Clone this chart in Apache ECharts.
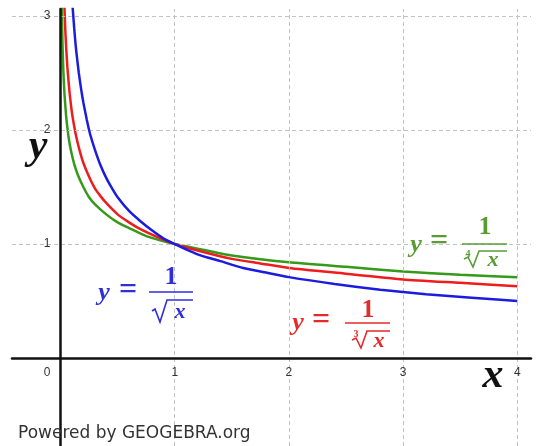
<!DOCTYPE html>
<html>
<head>
<meta charset="utf-8">
<script src="https://cdn.jsdelivr.net/npm/echarts@6/dist/echarts.min.js"></script>
<style>html,body{margin:0;padding:0;background:#fff}#c{width:536px;height:446px}</style>
</head>
<body>
<div id="c"></div>
<script>
// y = 1/sqrt(x)
const blueX = [0.10,0.11,0.12,0.13,0.14,0.16,0.18,0.20,0.23,0.26,0.30,0.35,0.40,0.45,0.50,0.60,0.70,0.80,0.90,1.00,1.20,1.40,1.60,1.80,2.00,2.40,2.80,3.20,3.60,4.00];
const blueY = [3.16,3.02,2.89,2.77,2.67,2.50,2.36,2.24,2.09,1.96,1.83,1.69,1.58,1.49,1.41,1.29,1.20,1.12,1.05,1.00,0.91,0.85,0.79,0.75,0.71,0.65,0.60,0.56,0.53,0.50];
// y = 1/cbrt(x)
const redX = [0.030,0.035,0.040,0.045,0.050,0.060,0.070,0.080,0.090,0.100,0.120,0.140,0.170,0.200,0.250,0.300,0.350,0.400,0.500,0.600,0.700,0.850,1.000,1.250,1.500,1.750,2.000,2.500,3.000,3.500,4.000];
const redY = [3.22,3.06,2.92,2.81,2.71,2.55,2.43,2.32,2.23,2.15,2.03,1.93,1.81,1.71,1.59,1.49,1.42,1.36,1.26,1.19,1.13,1.06,1.00,0.93,0.87,0.83,0.79,0.74,0.69,0.66,0.63];
// y = 1/4th-root(x)
const greenX = [0.010,0.012,0.014,0.017,0.020,0.025,0.030,0.035,0.040,0.050,0.060,0.070,0.085,0.100,0.120,0.150,0.200,0.250,0.300,0.400,0.500,0.600,0.750,1.000,1.250,1.500,2.000,2.500,3.000,3.500,4.000];
const greenY = [3.16,3.02,2.91,2.76,2.66,2.51,2.40,2.31,2.24,2.11,2.02,1.94,1.85,1.78,1.70,1.61,1.50,1.41,1.35,1.26,1.19,1.14,1.07,1.00,0.95,0.90,0.84,0.80,0.76,0.73,0.71];
const xGridValues = [1, 2, 3, 4];
const yGridValues = [1, 2, 3];
const xTickLabels = [0, 1, 2, 3, 4];
const yTickLabels = [1, 2, 3];

const zip = (xs, ys) => xs.map((x, i) => [x, ys[i]]);

const BLUE = '#1c1ce0', RED = '#ee1c1c', GREEN = '#35991a';
const BLUE_T = '#2f2fd8', RED_T = '#e42a2a', GREEN_T = '#5a9c34';

const X_MIN = -0.425, X_MAX = 4.12, Y_MIN = -0.77, Y_MAX = 3.06;
const G = {left: 12, right: 5, top: 9, bottom: 0};
const W = 536, H = 446;
const gw = W - G.left - G.right, gh = H - G.top - G.bottom;
// axis offsets so that the axes sit on the zero lines
const xAxisOffset = -(H - G.bottom - (G.top + (Y_MAX / (Y_MAX - Y_MIN)) * gh));
const yAxisOffset = -((-X_MIN / (X_MAX - X_MIN)) * gw);

const chart = echarts.init(document.getElementById('c'), null, {renderer: 'canvas'});

function T(text, x, y, font, color, align) {
  return {type: 'text', x: x, y: y, z: 50,
    style: {text: text, font: font, fill: color, align: align || 'center', verticalAlign: 'middle'}};
}
function L(x1, y1, x2, y2, color, w) {
  return {type: 'line', z: 50, shape: {x1: x1, y1: y1, x2: x2, y2: y2}, style: {stroke: color, lineWidth: w || 1.6}};
}
function R(points, color) {
  return {type: 'polyline', z: 50, shape: {points: points}, style: {stroke: color, lineWidth: 1.6, fill: null}};
}
const FY = 'italic bold 26px "Liberation Serif"';
const FN = 'bold 26px "Liberation Serif"';
const FE = 'bold 32px "Liberation Serif"';
const FX = 'italic bold 22px "Liberation Serif"';
const FI = 'bold 10px "Liberation Serif"';

const graphics = [
  // blue label
  T('y', 104, 293, FY, BLUE_T), T('=', 128, 291, FE, BLUE_T),
  T('1', 171, 277, FN, BLUE_T), L(149, 292, 193, 292, BLUE_T),
  R([[152, 311], [155, 309], [160, 322], [167, 300], [193, 300]], BLUE_T),
  T('x', 180, 312, FX, BLUE_T),
  // red label
  T('y', 298, 323, FY, RED_T), T('=', 321, 321, FE, RED_T),
  T('1', 368, 310, FN, RED_T), L(345, 323, 390, 323, RED_T),
  T('3', 356, 334, FI, RED_T),
  R([[352, 340], [356, 338], [361, 348], [367, 331], [390, 331]], RED_T),
  T('x', 379, 341, FX, RED_T),
  // green label
  T('y', 416, 245, FY, GREEN_T), T('=', 439, 242, FE, GREEN_T),
  T('1', 485, 227, FN, GREEN_T), L(462, 244, 507, 244, GREEN_T),
  T('4', 468, 254, FI, GREEN_T),
  R([[464, 259], [468, 257], [473, 267], [479, 251], [507, 251]], GREEN_T),
  T('x', 493, 260, FX, GREEN_T),
  // axis titles
  T('y', 38, 147, 'italic bold 42px "Liberation Serif"', '#111'),
  T('x', 493, 376, 'italic bold 42px "Liberation Serif"', '#111'),
  // footer
  {type: 'text', x: 18, y: 434, z: 40,
   style: {text: 'Powered by GEOGEBRA.org', font: '17px "DejaVu Sans"', fill: '#333', align: 'left', verticalAlign: 'middle'}}
];

const gridLineStyle = {type: [4, 3], color: '#c2c2c2', width: 1};

chart.setOption({
  animation: false,
  backgroundColor: '#ffffff',
  grid: {left: G.left, right: G.right, top: G.top, bottom: G.bottom, containLabel: false, outerBoundsMode: 'none'},
  xAxis: {
    type: 'value', min: X_MIN, max: X_MAX, splitNumber: 5, z: 10,
    position: 'bottom', offset: xAxisOffset,
    axisLine: {onZero: false, lineStyle: {color: '#111', width: 2.5}},
    axisTick: {show: false},
    splitLine: {show: false},
    axisLabel: {
      margin: 9, color: '#333', fontSize: 12, fontFamily: 'Liberation Sans',
      formatter: function (v) {
        if (xTickLabels.indexOf(v) < 0) return '';
        return v === 0 ? '{o|0}' : String(v);
      },
      rich: {o: {padding: [0, 27, 0, 0], color: '#333', fontSize: 12, fontFamily: 'Liberation Sans'}}
    }
  },
  yAxis: {
    type: 'value', min: Y_MIN, max: Y_MAX, splitNumber: 4, z: 10,
    position: 'left', offset: yAxisOffset,
    axisLine: {onZero: false, lineStyle: {color: '#111', width: 2.5}},
    axisTick: {show: false},
    splitLine: {show: false},
    axisLabel: {
      margin: 10, color: '#333', fontSize: 12, fontFamily: 'Liberation Sans',
      formatter: function (v) { return yTickLabels.indexOf(v) >= 0 ? String(v) : ''; }
    }
  },
  series: [
    {
      type: 'line', data: [], z: 1, silent: true,
      markLine: {
        silent: true, symbol: 'none', label: {show: false}, animation: false,
        lineStyle: gridLineStyle,
        data: xGridValues.map(v => ({xAxis: v})).concat(yGridValues.map(v => ({yAxis: v})))
      }
    },
    {type: 'line', data: zip(greenX, greenY), showSymbol: false, smooth: 0.2, z: 3,
     lineStyle: {color: GREEN, width: 2.5}, itemStyle: {color: GREEN}},
    {type: 'line', data: zip(redX, redY), showSymbol: false, smooth: 0.2, z: 4,
     lineStyle: {color: RED, width: 2.5}, itemStyle: {color: RED}},
    {type: 'line', data: zip(blueX, blueY), showSymbol: false, smooth: 0.2, z: 5,
     lineStyle: {color: BLUE, width: 2.5}, itemStyle: {color: BLUE}}
  ],
  graphic: graphics
});
</script>
</body>
</html>
